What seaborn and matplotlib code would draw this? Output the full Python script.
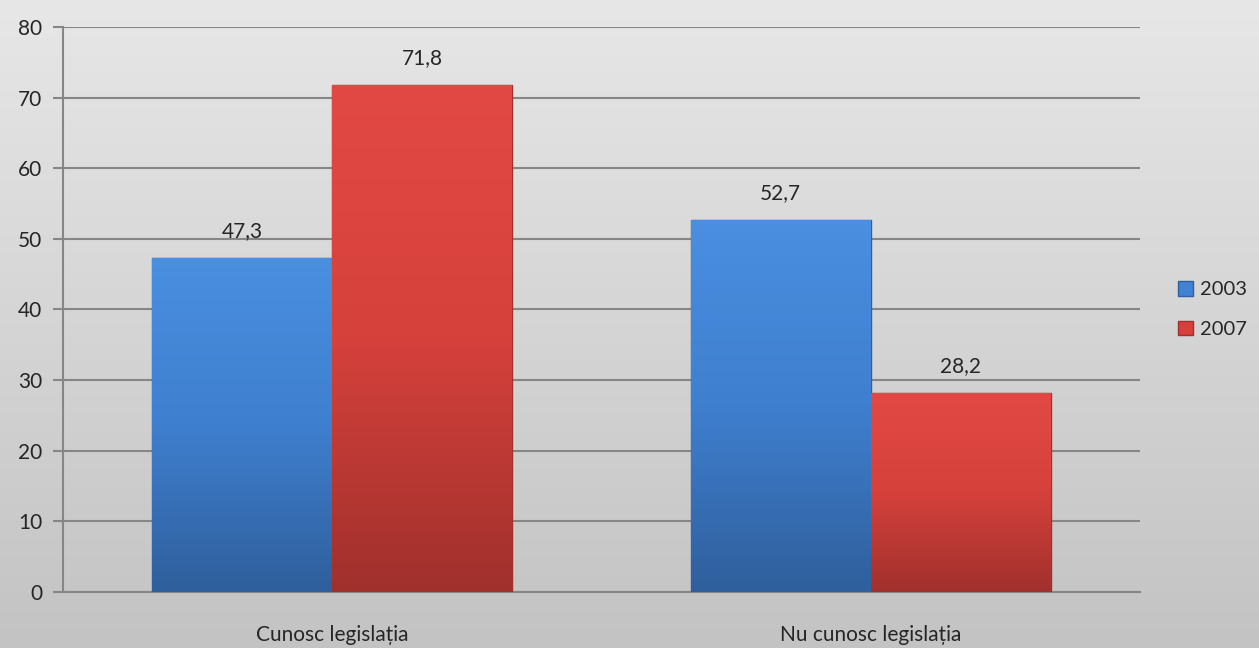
import matplotlib
matplotlib.use("Agg")
import matplotlib.pyplot as plt
import numpy as np
import pandas as pd
import seaborn as sns

# data
categories = ["Cunosc legislația", "Nu cunosc legislația"]
years = ["2003", "2007"]
values_2003 = [47.3, 52.7]
values_2007 = [71.8, 28.2]
y_ticks = [0, 10, 20, 30, 40, 50, 60, 70, 80]

df = pd.DataFrame({
    "categorie": categories * 2,
    "an": [years[0]] * 2 + [years[1]] * 2,
    "valoare": values_2003 + values_2007,
})

sns.set_style("white")
plt.rcParams["font.family"] = ["Lato", "DejaVu Sans"]

fig = plt.figure(figsize=(12.59, 6.48), dpi=100)

# grey gradient background for the whole figure
bg = fig.add_axes([0, 0, 1, 1], zorder=-10)
grad = np.linspace(0, 1, 256).reshape(-1, 1)
bg.imshow(grad, aspect="auto", cmap=matplotlib.colors.LinearSegmentedColormap.from_list(
    "bg", ["#e7e7e7", "#c3c3c3"]), extent=[0, 1, 0, 1], origin="upper")
bg.axis("off")

ax = fig.add_axes([0.05, 0.0864, 0.8555, 0.872])
ax.patch.set_alpha(0)

palette = {"2003": "#4182d4", "2007": "#d8403b"}
sns.barplot(data=df, x="categorie", y="valoare", hue="an", palette=palette,
            width=0.668, ax=ax, saturation=1, legend=True, zorder=3)

# vertical gradient on each bar, clipped to the bar shape
grads = {"2003": ("#4a8fe0", "#3f7fcf", "#2f5f9c"), "2007": ("#e24944", "#d6413c", "#a0302c")}
for container, yr in zip(ax.containers, years):
    cmap = matplotlib.colors.LinearSegmentedColormap.from_list("b" + yr, list(grads[yr]))
    for bar in container:
        x0, w, h = bar.get_x(), bar.get_width(), bar.get_height()
        im = ax.imshow(grad, aspect="auto", cmap=cmap, extent=[x0, x0 + w, 0, h],
                       origin="upper", zorder=3.5)
        im.set_clip_path(bar)
        bar.set_edgecolor(grads[yr][2])
        bar.set_linewidth(1)
    ax.bar_label(container, labels=[f"{v:.1f}".replace(".", ",") for v in container.datavalues],
                 padding=12, fontsize=15)

ax.set_xlim(-0.5, 1.5)
ax.set_ylim(0, 80)
ax.set_yticks(y_ticks)
ax.yaxis.grid(True, color="#868686", linewidth=1.5, zorder=0)
ax.set_axisbelow(True)
ax.set_xlabel("")
ax.set_ylabel("")

for s in ["top", "right"]:
    ax.spines[s].set_visible(False)
ax.spines["left"].set_color("#868686")
ax.spines["left"].set_linewidth(1.5)
ax.spines["bottom"].set_color("#868686")
ax.spines["bottom"].set_linewidth(1.5)

ax.set_xticks([-0.5, 0.5, 1.5], minor=True)
ax.tick_params(axis="x", which="major", length=0, labelsize=15, pad=24)
ax.tick_params(axis="x", which="minor", length=7, width=1.5, color="#868686", direction="out")
ax.tick_params(axis="y", length=7, width=1.5, color="#868686", direction="out",
               labelsize=15, pad=8, left=True)

leg = ax.legend(loc="center left", bbox_to_anchor=(1.0, 0.5), frameon=False,
                fontsize=14.5, handlelength=0.75, handleheight=0.75, handletextpad=0.35,
                labelspacing=1.1, borderaxespad=1.5)
for h, yr in zip(leg.legend_handles, years):
    h.set_edgecolor(grads[yr][2])

fig.savefig("out.png", dpi=100)
